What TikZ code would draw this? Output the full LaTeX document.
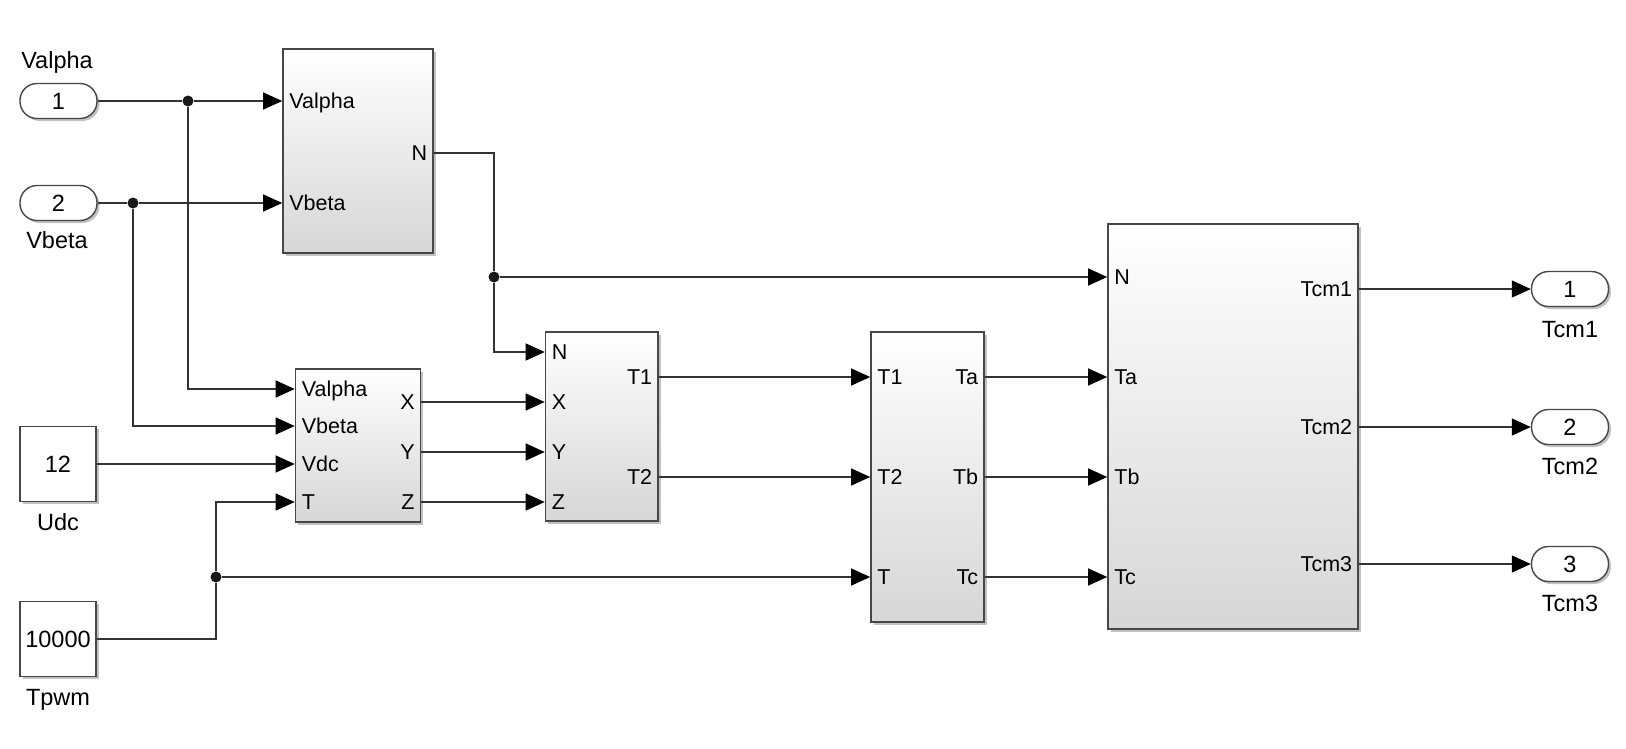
\documentclass[tikz,border=0pt]{standalone}
\usepackage{fontspec}
\setmainfont{Liberation Sans}
\usetikzlibrary{arrows.meta,positioning,shadows}

\begin{document}
\begin{tikzpicture}[
    x=1pt, y=-1pt,
    every node/.style={font=\fontsize{23.5}{28}\selectfont},
    shd/.style={drop shadow={shadow xshift=2.5pt, shadow yshift=-2.5pt, fill=black!40, opacity=.6}},
    blk/.style={draw=black!72, line width=1.6pt, top color=white, bottom color=black!16, shd, inner sep=0pt},
    cst/.style={draw=black!72, line width=1.6pt, fill=white, shd, minimum width=76pt, minimum height=75pt, inner sep=0pt},
    io/.style={draw=black!72, line width=1.4pt, fill=white, shd, rounded corners=17pt, minimum width=77pt, minimum height=35pt, inner sep=0pt},
    pin/.style={anchor=west, inner xsep=7pt, inner ysep=0pt, text height=15.5pt, text depth=0pt, font=\fontsize{21.5}{26}\selectfont},
    pout/.style={anchor=east, inner xsep=6.5pt, inner ysep=0pt, text height=15.5pt, text depth=0pt, font=\fontsize{21.5}{26}\selectfont},
    tag/.style={anchor=base, inner sep=0pt},
    dot/.style={circle, fill=black!90, inner sep=0pt, minimum size=11pt},
    sig/.style={draw=black!80, line width=1.2pt},
    arr/.style={sig, -{Triangle[length=19pt, width=17pt, fill=black, color=black]}},
]
\useasboundingbox (0,0) rectangle (1626,748);

% sources
\node[io] (in1) at (58.5,101) {1};
\node[tag] (in1-l) at (57,68) {Valpha};
\node[io] (in2) at (58.5,203) {2};
\node[tag] (in2-l) at (57,248) {Vbeta};
\node[cst] (c1) at (58,464) {12};
\node[tag] (c1-l) at (58,530) {Udc};
\node[cst] (c2) at (58,639) {10000};
\node[tag] (c2-l) at (58,705) {Tpwm};

% subsystems
\node[blk, minimum width=150pt, minimum height=204pt] (A) at (358,151) {};
\node[blk, minimum width=125pt, minimum height=153pt] (B) at (358,445.5) {};
\node[blk, minimum width=112.5pt, minimum height=189pt] (C) at (601.75,426.5) {};
\node[blk, minimum width=113pt, minimum height=290pt] (D) at (927.5,477) {};
\node[blk, minimum width=250pt, minimum height=405pt] (E) at (1233,426.5) {};

% ports
\foreach \nm/\y/\txt in {va/101/Valpha, vb/203/Vbeta}
  \node[pin] (A-\nm) at (A.west |- 0,\y) {\txt};
\node[pout] (A-n) at (A.east |- 0,153) {N};
\foreach \nm/\y/\txt in {va/389/Valpha, vb/426/Vbeta, vdc/464/Vdc, t/502/T}
  \node[pin] (B-\nm) at (B.west |- 0,\y) {\txt};
\foreach \nm/\y/\txt in {x/402/X, y/452/Y, z/502/Z}
  \node[pout] (B-\nm) at (B.east |- 0,\y) {\txt};
\foreach \nm/\y/\txt in {n/352/N, x/402/X, y/452/Y, z/502/Z}
  \node[pin] (C-\nm) at (C.west |- 0,\y) {\txt};
\foreach \nm/\y/\txt in {t1/377/T1, t2/477/T2}
  \node[pout] (C-\nm) at (C.east |- 0,\y) {\txt};
\foreach \nm/\y/\txt in {t1/377/T1, t2/477/T2, t/577/T}
  \node[pin] (D-\nm) at (D.west |- 0,\y) {\txt};
\foreach \nm/\y/\txt in {ta/377/Ta, tb/477/Tb, tc/577/Tc}
  \node[pout] (D-\nm) at (D.east |- 0,\y) {\txt};
\foreach \nm/\y/\txt in {n/277/N, ta/377/Ta, tb/477/Tb, tc/577/Tc}
  \node[pin] (E-\nm) at (E.west |- 0,\y) {\txt};
\foreach \nm/\y/\txt in {o1/289/Tcm1, o2/427/Tcm2, o3/564/Tcm3}
  \node[pout] (E-\nm) at (E.east |- 0,\y) {\txt};

% sinks
\node[io] (out1) at (1570,289) {1};
\node[tag] (out1-l) at (1570,337) {Tcm1};
\node[io] (out2) at (1570,427) {2};
\node[tag] (out2-l) at (1570,474) {Tcm2};
\node[io] (out3) at (1570,564) {3};
\node[tag] (out3-l) at (1570,611) {Tcm3};

% branch points
\node[dot] (j1) at (188,101) {};
\node[dot] (j2) at (133,203) {};
\node[dot] (j3) at (494,277) {};
\node[dot] (j4) at (216,577) {};

% signals
\draw[sig] (in1) -- (j1);
\draw[arr] (j1) -- (A-va);
\draw[arr] (j1) |- (B-va);
\draw[sig] (in2) -- (j2);
\draw[arr] (j2) -- (A-vb);
\draw[arr] (j2) |- (B-vb);
\draw[sig] (A-n) -| (j3);
\draw[arr] (j3) -- (E-n);
\draw[arr] (j3) |- (C-n);
\draw[arr] (c1) -- (B-vdc);
\draw[sig] (c2) -| (j4);
\draw[arr] (j4) |- (B-t);
\draw[arr] (j4) -- (D-t);
\foreach \p in {x,y,z}
  \draw[arr] (B-\p) -- (C-\p);
\draw[arr] (C-t1) -- (D-t1);
\draw[arr] (C-t2) -- (D-t2);
\draw[arr] (D-ta) -- (E-ta);
\draw[arr] (D-tb) -- (E-tb);
\draw[arr] (D-tc) -- (E-tc);
\draw[arr] (E-o1) -- (out1);
\draw[arr] (E-o2) -- (out2);
\draw[arr] (E-o3) -- (out3);
\end{tikzpicture}
\end{document}
